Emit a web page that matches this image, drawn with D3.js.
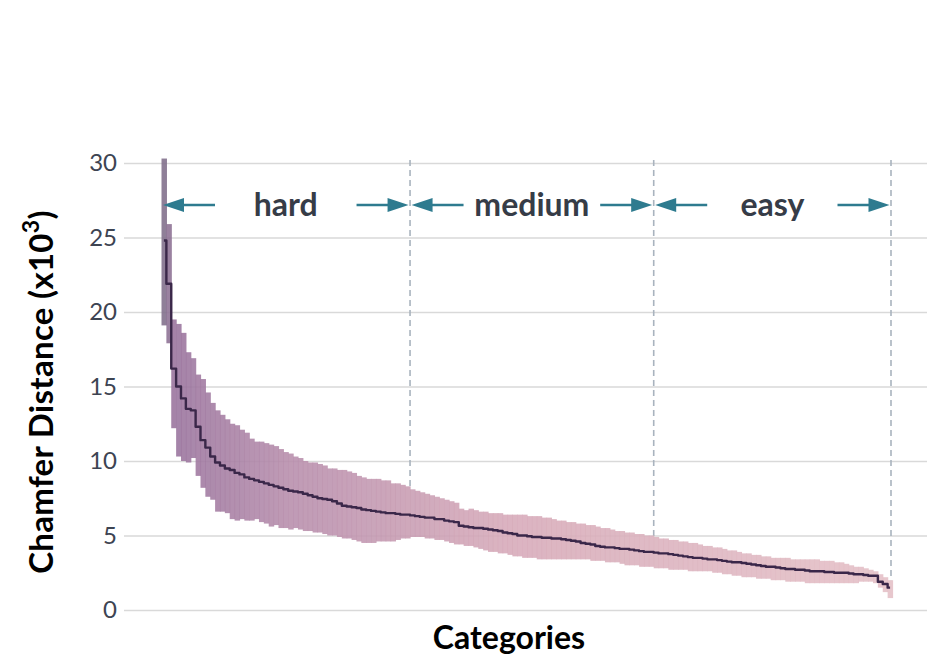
<!DOCTYPE html>
<html>
<head>
<meta charset="utf-8">
<script src="https://cdn.jsdelivr.net/npm/d3@7/dist/d3.min.js"></script>
<style>
  body { margin: 0; background: #fff; }
  svg { display: block; }
  .tick text { font-family: Lato, "Noto Sans", sans-serif; font-size: 24px; fill: #3d4452; }
</style>
</head>
<body>
<svg id="chart" width="927" height="661"></svg>
<script>
// upper edge, lower edge and mean of chamfer distance (x10^3) per category, sorted by mean
var upper = [30.3,25.9,19.5,19.2,18.6,17.3,16.9,15.8,15.5,14.6,
  13.9,13.4,13.1,12.8,12.5,12.4,12.1,11.9,11.5,11.3,
  11.3,11.2,11.1,11.0,10.8,10.6,10.5,10.3,10.2,10.0,
  9.9,9.9,9.8,9.7,9.5,9.5,9.4,9.4,9.3,9.2,
  9.0,8.9,8.8,8.8,8.8,8.7,8.7,8.5,8.5,8.4,
  8.3,8.1,8.0,7.9,7.8,7.7,7.6,7.5,7.4,7.3,
  7.2,6.8,6.7,6.8,6.7,6.6,6.6,6.5,6.5,6.5,
  6.4,6.4,6.4,6.4,6.4,6.3,6.3,6.3,6.2,6.2,
  6.1,6.0,6.0,5.9,5.9,5.8,5.8,5.7,5.7,5.6,
  5.5,5.5,5.4,5.3,5.3,5.2,5.2,5.1,5.1,5.0,
  5.0,4.9,4.8,4.8,4.7,4.7,4.6,4.6,4.5,4.5,
  4.4,4.3,4.3,4.2,4.2,4.1,4.0,4.0,3.9,3.8,
  3.8,3.7,3.7,3.6,3.6,3.5,3.5,3.5,3.5,3.4,
  3.4,3.4,3.4,3.4,3.4,3.3,3.3,3.3,3.2,3.2,
  3.1,3.0,2.9,2.9,2.8,2.7,2.6,2.4,2.2,2.0];

var lower = [19.1,17.9,12.2,10.3,10.0,9.9,10.2,9.0,8.2,7.6,
  7.4,6.6,6.6,6.5,6.1,6.0,6.1,6.0,6.0,6.1,
  5.9,5.8,5.6,5.7,5.5,5.5,5.4,5.5,5.4,5.3,
  5.3,5.2,5.2,5.1,5.0,5.0,4.9,4.8,4.8,4.7,
  4.6,4.5,4.5,4.5,4.6,4.6,4.6,4.6,4.7,4.8,
  4.8,4.9,4.9,4.9,4.8,4.8,4.7,4.7,4.6,4.5,
  4.4,4.4,4.3,4.3,4.2,4.1,4.0,3.9,3.9,3.8,
  3.8,3.7,3.6,3.6,3.5,3.5,3.5,3.4,3.4,3.4,
  3.4,3.4,3.4,3.4,3.4,3.4,3.4,3.4,3.3,3.3,
  3.3,3.2,3.2,3.2,3.1,3.0,3.0,3.0,2.9,2.9,
  2.9,2.8,2.8,2.8,2.7,2.7,2.7,2.7,2.6,2.6,
  2.6,2.6,2.6,2.5,2.5,2.4,2.4,2.3,2.3,2.2,
  2.2,2.2,2.1,2.1,2.1,2.0,2.0,2.0,1.9,1.9,
  1.9,1.9,1.8,1.8,1.8,1.8,1.8,1.8,1.8,1.8,
  1.8,1.8,1.8,1.9,1.9,1.9,1.8,1.5,1.2,0.8];

var mean = [24.8,21.9,16.2,15.0,14.2,13.5,13.4,12.3,11.4,10.9,
  10.3,9.9,9.7,9.5,9.4,9.2,9.1,8.9,8.8,8.7,
  8.6,8.5,8.4,8.3,8.2,8.1,8.0,7.95,7.9,7.8,
  7.7,7.6,7.5,7.45,7.4,7.3,7.15,7.0,6.95,6.9,
  6.85,6.75,6.7,6.65,6.6,6.55,6.5,6.5,6.45,6.4,
  6.4,6.35,6.3,6.25,6.2,6.2,6.1,6.1,6.0,5.95,
  5.9,5.65,5.6,5.55,5.5,5.5,5.45,5.4,5.35,5.3,
  5.2,5.15,5.1,5.0,5.0,4.95,4.9,4.9,4.85,4.85,
  4.8,4.8,4.75,4.7,4.65,4.6,4.5,4.45,4.4,4.3,
  4.25,4.2,4.2,4.15,4.1,4.1,4.05,4.0,3.95,3.9,
  3.9,3.85,3.8,3.8,3.75,3.7,3.65,3.6,3.55,3.5,
  3.5,3.45,3.4,3.4,3.35,3.3,3.25,3.2,3.2,3.15,
  3.1,3.05,3.0,2.95,2.9,2.9,2.85,2.8,2.75,2.75,
  2.7,2.7,2.65,2.6,2.6,2.6,2.55,2.55,2.5,2.5,
  2.5,2.45,2.4,2.4,2.35,2.3,2.3,1.9,1.75,1.5];

// difficulty groups: [first category, first category of next group)
var groupNames = ["hard", "medium", "easy"];
var groupStarts = [0, 51, 101];
var groupEnds = [51, 101, 150];

var yTicks = [0, 5, 10, 15, 20, 25, 30];

var categories = d3.range(mean.length);

var svg = d3.select("#chart");

var x = d3.scaleBand()
    .domain(categories)
    .range([161.5, 892.5])
    .padding(0);

var y = d3.scaleLinear()
    .domain([0, 30])
    .range([610, 163]);

// colour drifts from grey-purple to pink along the categories
var barColor = d3.scaleLinear()
    .domain([0, 2, 25, 70, 149])
    .range(["#7f6d8a", "#98729c", "#b68cab", "#d6a9b8", "#e4bfc6"]);

// gridlines + tick labels
svg.append("g")
    .attr("transform", "translate(124,0)")
    .call(d3.axisLeft(y).tickValues(yTicks).tickSize(-(927 - 124)).tickPadding(7))
    .call(g => g.select(".domain").remove())
    .call(g => g.selectAll(".tick line").attr("stroke", "#d9d9d9").attr("stroke-width", 1.6));

// dashed separators between the groups
svg.append("g")
    .selectAll("line")
    .data(groupEnds)
    .enter()
    .append("line")
    .attr("x1", d => d < mean.length ? x(d) : x.range()[1] - 1.5)
    .attr("x2", d => d < mean.length ? x(d) : x.range()[1] - 1.5)
    .attr("y1", y(30) - 3)
    .attr("y2", d => y(upper[Math.min(d, mean.length - 1)]))
    .attr("stroke", "#a9b3be")
    .attr("stroke-width", 1.6)
    .attr("stroke-dasharray", "6,4");

// min-max band, one thin bar per category
svg.append("g")
    .selectAll("rect")
    .data(categories)
    .enter()
    .append("rect")
    .attr("x", i => x(i))
    .attr("width", x.bandwidth() + 0.6)
    .attr("y", i => y(upper[i]))
    .attr("height", i => y(lower[i]) - y(upper[i]))
    .attr("fill", i => barColor(i))
    .attr("fill-opacity", 0.88);

// mean line, stepped like the bars
var line = d3.line()
    .curve(d3.curveStep)
    .x(i => x(i) + x.bandwidth() / 2)
    .y(i => y(mean[i]));

svg.append("path")
    .datum(categories)
    .attr("d", line)
    .attr("fill", "none")
    .attr("stroke", "#3a2749")
    .attr("stroke-width", 2.4)
    .attr("stroke-linejoin", "round");

// group labels with arrows pointing at the group edges
var arrowY = 205, arrowLen = 52, headLen = 21, headHalf = 7;
var arrowColor = "#2e7b8f";

function arrow(tip, dir) {
    // dir = -1 points left, +1 points right
    var tail = tip - dir * arrowLen;
    var base = tip - dir * headLen;
    svg.append("line")
        .attr("x1", tail).attr("x2", base + dir * 2)
        .attr("y1", arrowY).attr("y2", arrowY)
        .attr("stroke", arrowColor)
        .attr("stroke-width", 2.5);
    svg.append("path")
        .attr("d", "M" + tip + "," + arrowY + "L" + base + "," + (arrowY - headHalf) +
                   "L" + base + "," + (arrowY + headHalf) + "Z")
        .attr("fill", arrowColor);
}

groupNames.forEach((name, k) => {
    var left = groupStarts[k] === 0 ? x.range()[0] + 1.5 : x(groupStarts[k]) + 1.5;
    var right = groupEnds[k] < mean.length ? x(groupEnds[k]) - 1.5 : x.range()[1] - 3;
    arrow(left, -1);
    arrow(right, 1);
    svg.append("text")
        .attr("x", (left + right) / 2)
        .attr("y", 216)
        .attr("text-anchor", "middle")
        .style("font-family", "Lato, 'Noto Sans', sans-serif")
        .style("font-weight", "bold")
        .style("font-size", "32px")
        .style("fill", "#363c47")
        .text(name);
});

// axis titles
var yTitle = svg.append("text")
    .attr("transform", "translate(53,392) rotate(-90)")
    .attr("text-anchor", "middle")
    .style("font-family", "Lato, 'Noto Sans', sans-serif")
    .style("font-weight", "bold")
    .style("font-size", "33px")
    .style("letter-spacing", "0.3px")
    .style("fill", "#000");
yTitle.append("tspan").text("Chamfer Distance (x10");
yTitle.append("tspan").attr("baseline-shift", "super").style("font-size", "23px").text("3");
yTitle.append("tspan").text(")");

svg.append("text")
    .attr("x", 509)
    .attr("y", 649)
    .attr("text-anchor", "middle")
    .style("font-family", "Lato, 'Noto Sans', sans-serif")
    .style("font-weight", "bold")
    .style("font-size", "32px")
    .style("fill", "#000")
    .text("Categories");
</script>
</body>
</html>
